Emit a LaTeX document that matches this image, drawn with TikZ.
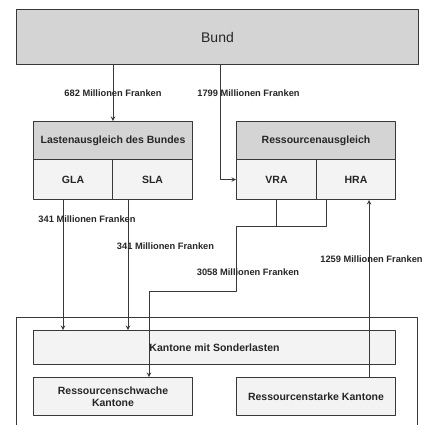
\documentclass[tikz,border=0pt]{standalone}
\usepackage{fontspec}
\setmainfont{Liberation Sans}
\definecolor{hdrgray}{HTML}{D4D4D4}
\definecolor{subgray}{HTML}{F3F3F3}
\definecolor{linegray}{HTML}{383838}
\tikzset{
	box/.style={draw=linegray,line width=1pt,anchor=north west,inner sep=0pt,align=center,
		text=black!85,font=\bfseries\fontsize{10.5}{12.5}\selectfont},
	hdr/.style={box,fill=hdrgray},
	sub/.style={box,fill=subgray},
	lbl/.style={inner sep=0pt,text=black!85,font=\bfseries\fontsize{9.3}{11}\selectfont},
	flow/.style={draw=linegray,line width=1pt}
}
\begin{document}
\begin{tikzpicture}[>=stealth,line join=round,x=1pt,y=-1pt]
\useasboundingbox (0,0) rectangle (425,424);
\clip (0,0) rectangle (425,424);
	\node[hdr,minimum width=402pt,minimum height=55pt,font=\fontsize{14}{16}\selectfont] (bund) at (16,9) {Bund};
	% Lastenausgleich
	\node[hdr,minimum width=159pt,minimum height=38pt] (lasten) at (33,121) {Lastenausgleich des Bundes};
	\node[sub,minimum width=79pt,minimum height=40pt] (gla) at (33,159) {GLA};
	\node[sub,minimum width=80pt,minimum height=40pt] (sla) at (112,159) {SLA};
	% Ressourcenausgleich
	\node[hdr,minimum width=159pt,minimum height=38pt] (ress) at (236,121) {Ressourcenausgleich};
	\node[sub,minimum width=80pt,minimum height=40pt] (vra) at (236,159) {VRA};
	\node[sub,minimum width=79pt,minimum height=40pt] (hra) at (316,159) {HRA};
	% Kantone
	\node[box,minimum width=401pt,minimum height=140pt] (kantone) at (16,317) {};
	\node[sub,minimum width=362pt,minimum height=34pt] (sonder) at (33,330) {Kantone mit Sonderlasten};
	\node[sub,minimum width=159pt,minimum height=38pt] (schwach) at (33,377) {Ressourcenschwache\\Kantone};
	\node[sub,minimum width=159pt,minimum height=38pt] (stark) at (236,377) {Ressourcenstarke Kantone};
	% Fluesse
	\draw[flow,->] (bund.south -| lasten.north)--(lasten.north);
	\draw[flow,->] ([xshift=-16pt]vra.west |- bund.south)|-(vra.west);
	\draw[flow,->] ([xshift=-10pt]gla.south)--([xshift=-10pt]gla.south |- sonder.north);
	\draw[flow,->] ([xshift=16pt]sla.south west)--([xshift=16pt]sla.south west |- sonder.north);
	\coordinate (merge) at (236,226);
	\draw[flow] (vra.south)|-(merge);
	\draw[flow] ([xshift=10pt]hra.south west)|-(merge);
	\draw[flow,->] (merge)--++(0,65)-|([xshift=36pt]schwach.north);
	\draw[flow,->] ([xshift=-27pt]stark.north east)--([xshift=-27pt]hra.south east);
	% Betraege
	\node[lbl] (l682) at (113,93) {682 Millionen Franken};
	\node[lbl] (l1799) at (248.5,93) {1799 Millionen Franken};
	\node[lbl] (l341a) at (87,219) {341 Millionen Franken};
	\node[lbl] (l341b) at (165.5,246) {341 Millionen Franken};
	\node[lbl] (l3058) at (248,272) {3058 Millionen Franken};
	\node[lbl] (l1259) at (371.5,259) {1259 Millionen Franken};
\end{tikzpicture}
\end{document}
